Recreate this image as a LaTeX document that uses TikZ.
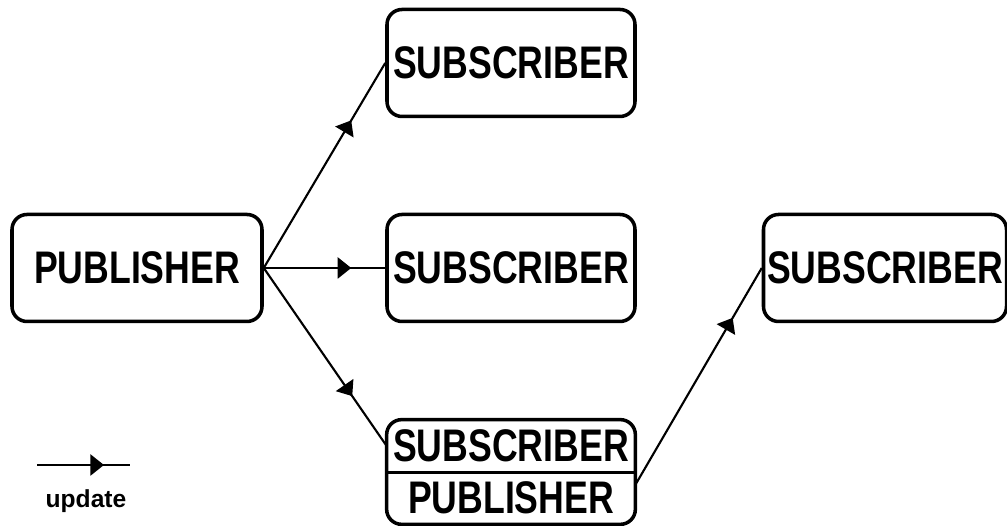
\documentclass[tikz,border=0pt]{standalone}
\usepackage{fontspec}
\setmainfont{Liberation Sans}[FakeStretch=0.78]
\newfontfamily\legendfont{Liberation Sans}
\usetikzlibrary{arrows.meta,decorations.markings,calc}

\tikzset{
	box/.style={draw,line width=2pt,rounded corners=0.3cm,minimum width=4.96cm,minimum height=2.14cm,font=\fontsize{26}{29}\selectfont\bfseries,inner sep=0pt},
	half/.style={minimum width=4.96cm,minimum height=1.04cm,font=\fontsize{26}{29}\selectfont\bfseries,inner sep=0pt},
	update/.style={line width=1.2pt,postaction={decorate},decoration={markings,mark=at position #1 with {\arrow{Triangle[length=0.27cm,width=0.42cm]}}}},
	update/.default=0.72
}

\begin{document}
\begin{tikzpicture}
	\useasboundingbox (0,0) rectangle (20.14,10.52);

	\node[box,minimum width=5cm] (pub) at (2.74,5.16){PUBLISHER};
	\node[box] (subA) at (10.22,9.26){SUBSCRIBER};
	\node[box] (subB) at (10.22,5.16){SUBSCRIBER};
	\node[box,minimum width=4.86cm] (subC) at (17.7,5.16){SUBSCRIBER};

	% subscriber that is also a publisher
	\node[half] (subD) at (10.22,1.6){SUBSCRIBER};
	\node[half] (pubD) at (10.22,0.56){PUBLISHER};
	\draw[line width=2pt,rounded corners=0.3cm] (subD.north west) rectangle (pubD.south east);
	\draw[line width=2pt] (subD.south west)--(subD.south east);

	\draw[update](pub.east)--(subA.west);
	\draw[update](pub.east)--(subB.west);
	\draw[update](pub.east)--(subD.west);
	\draw[update=0.77]($(pubD.east)!0.5!(pubD.north east)$)--(subC.west);

	% legend
	\coordinate (legA) at (0.74,1.22);
	\coordinate (legB) at (2.6,1.22);
	\draw[update=0.72](legA)--(legB);
	\node[font=\fontsize{14}{16}\legendfont\bfseries] (leg) at (1.72,0.5){update};
\end{tikzpicture}
\end{document}
